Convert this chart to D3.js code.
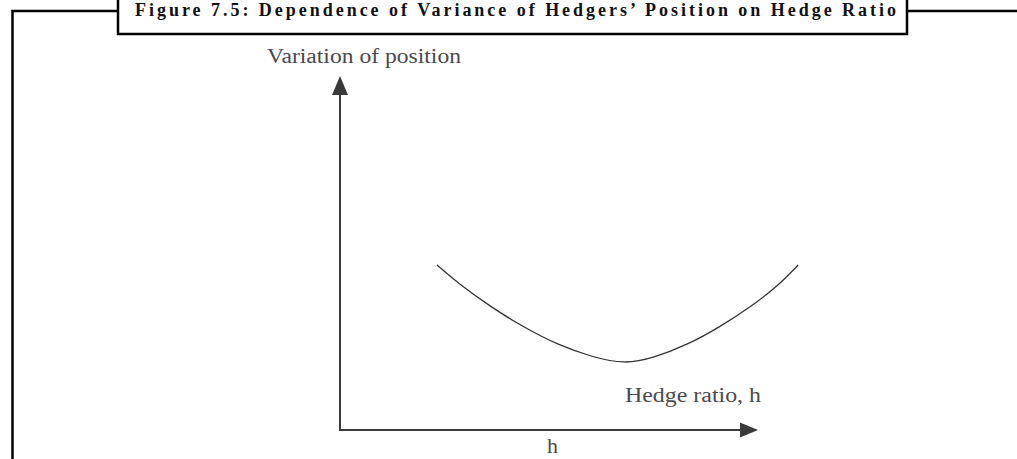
<!DOCTYPE html>
<html>
<head>
<meta charset="utf-8">
<script src="https://cdn.jsdelivr.net/npm/d3@7"></script>
<style>
  body { margin: 0; background: #fff; }
  svg { display: block; }
</style>
</head>
<body>
<svg id="chart" width="1017" height="459"></svg>
<script>
// title and labels
let titleText = "Figure 7.5: Dependence of Variance of Hedgers\u2019 Position on Hedge Ratio";
let yLabel = "Variation of position";
let curveLabel = "Hedge ratio, h";
let xLabel = "h";

// curve (hedge ratio, variance), arbitrary units
let hedgeRatio = [0.232, 0.282, 0.364, 0.443, 0.522, 0.603, 0.682, 0.749, 0.830, 0.909, 0.988, 1.045, 1.096];
let variance   = [0.466, 0.415, 0.345, 0.288, 0.240, 0.206, 0.186, 0.203, 0.240, 0.291, 0.353, 0.404, 0.466];

let svg = d3.select('#chart');

let x = d3.scaleLinear().domain([0, 1]).range([340, 758]);
let y = d3.scaleLinear().domain([0, 1]).range([430, 76]);

// frame
svg.append('path')
    .attr('d', 'M 12.5,459 L 12.5,11 L 118,11 M 907,11 L 1017,11')
    .attr('fill', 'none')
    .attr('stroke', '#000')
    .attr('stroke-width', 2.5);

svg.append('rect')
    .attr('x', 118)
    .attr('y', -10)
    .attr('width', 789)
    .attr('height', 44)
    .attr('fill', '#fff')
    .attr('stroke', '#000')
    .attr('stroke-width', 2.5);

svg.append('text')
    .attr('x', 135)
    .attr('y', 16)
    .attr('font-family', 'Liberation Serif, serif')
    .attr('font-size', '18px')
    .attr('font-weight', 'bold')
    .attr('textLength', 761)
    .attr('lengthAdjust', 'spacing')
    .attr('fill', '#111')
    .text(titleText);

// axes
let axisCol = '#3a3a3a';
let g = svg.append('g').attr('class', 'axes');

g.append('line')
    .attr('x1', x(0)).attr('y1', y(0))
    .attr('x2', x(0)).attr('y2', y(1) + 14)
    .attr('stroke', axisCol)
    .attr('stroke-width', 2);

g.append('line')
    .attr('x1', x(0) - 1).attr('y1', y(0))
    .attr('x2', x(1) - 14).attr('y2', y(0))
    .attr('stroke', axisCol)
    .attr('stroke-width', 2);

// arrow heads
g.append('path')
    .attr('d', 'M ' + x(0) + ',' + y(1) + ' L ' + (x(0) + 8) + ',' + (y(1) + 19) + ' L ' + (x(0) - 8) + ',' + (y(1) + 19) + ' Z')
    .attr('fill', axisCol);

g.append('path')
    .attr('d', 'M ' + x(1) + ',' + y(0) + ' L ' + (x(1) - 18) + ',' + (y(0) - 7.5) + ' L ' + (x(1) - 18) + ',' + (y(0) + 7.5) + ' Z')
    .attr('fill', axisCol);

// curve
let line = d3.line()
    .x(function (d) { return x(d[0]); })
    .y(function (d) { return y(d[1]); })
    .curve(d3.curveBasis);

let pts = hedgeRatio.map(function (h, i) { return [h, variance[i]]; });

svg.append('path')
    .data([pts])
    .attr('d', line)
    .attr('fill', 'none')
    .attr('stroke', '#333')
    .attr('stroke-width', 1.3);

// labels
let txt = function (s, px, py, len) {
    svg.append('text')
        .attr('x', px)
        .attr('y', py)
        .attr('font-family', 'Liberation Serif, serif')
        .attr('font-size', '20px')
        .attr('textLength', len)
        .attr('lengthAdjust', 'spacingAndGlyphs')
        .attr('fill', '#4a4a4a')
        .text(s);
};

txt(yLabel, 267, 63, 194);
txt(curveLabel, 625, 402, 136);
txt(xLabel, 547, 453, 11);
</script>
</body>
</html>
